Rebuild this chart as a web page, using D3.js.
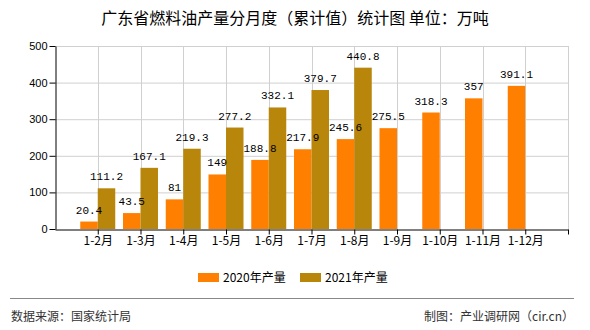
<!DOCTYPE html>
<html>
<head>
<meta charset="utf-8">
<script src="https://cdn.jsdelivr.net/npm/d3@7"></script>
<style>
  html, body { margin: 0; padding: 0; background: #fff; }
  svg { display: block; }
</style>
</head>
<body>
<svg id="chart" width="590" height="330"></svg>
<script>
// Monthly cumulative fuel-oil output, Guangdong (10k tonnes)
const categories = ["1-2月", "1-3月", "1-4月", "1-5月", "1-6月", "1-7月", "1-8月", "1-9月", "1-10月", "1-11月", "1-12月"];
const series2020 = [20.4, 43.5, 81, 149, 188.8, 217.9, 245.6, 275.5, 318.3, 357, 391.1];
const series2021 = [111.2, 167.1, 219.3, 277.2, 332.1, 379.7, 440.8];
const yTicks = [0, 100, 200, 300, 400, 500];
const seriesNames = ["2020年产量", "2021年产量"];
const colors = ["#FF8000", "#B8860B"];

const svg = d3.select("#chart");
const cjk = "'Noto Sans CJK SC', 'Noto Sans', sans-serif";
const sans = "'Liberation Sans', Arial, sans-serif";
const mono = "'Liberation Mono', 'DejaVu Sans Mono', monospace";

const plotL = 55, plotR = 568, plotT = 46, plotB = 229;

// ticks sit on slot boundaries 1..11 of 12 slots across the plot width
const x = d3.scalePoint()
  .domain(["", ...categories, " "])
  .range([plotL, plotR]);
const y = d3.scaleLinear().domain([0, 500]).range([plotB, plotT]);
const barW = 17.5;

// title
svg.append("text")
  .attr("x", 295).attr("y", 24)
  .attr("text-anchor", "middle")
  .style("font-family", cjk).style("font-size", "16px").style("fill", "#000")
  .text("广东省燃料油产量分月度（累计值）统计图 单位：万吨");

// grid
const grid = svg.append("g");
grid.selectAll("line.h").data(yTicks.filter(d => d > 0)).join("line")
  .attr("x1", plotL).attr("x2", plotR)
  .attr("y1", d => y(d) + 0.5).attr("y2", d => y(d) + 0.5)
  .attr("stroke", "#d0d0d0");
grid.selectAll("line.v").data([...categories, " "]).join("line")
  .attr("x1", d => Math.round(x(d)) + 0.5).attr("x2", d => Math.round(x(d)) + 0.5)
  .attr("y1", plotT).attr("y2", plotB)
  .attr("stroke", "#d0d0d0");

// bars
const data2020 = series2020.map((v, i) => ({ c: categories[i], v }));
const data2021 = series2021.map((v, i) => ({ c: categories[i], v }));

svg.append("g").selectAll("rect").data(data2020).join("rect")
  .attr("x", d => x(d.c) - barW).attr("width", barW)
  .attr("y", d => y(d.v)).attr("height", d => y(0) - y(d.v))
  .attr("fill", colors[0]);
svg.append("g").selectAll("rect").data(data2021).join("rect")
  .attr("x", d => x(d.c)).attr("width", barW)
  .attr("y", d => y(d.v)).attr("height", d => y(0) - y(d.v))
  .attr("fill", colors[1]);

// value labels
const labelStyle = sel => sel
  .attr("text-anchor", "middle")
  .style("font-family", mono).style("font-size", "11px").style("fill", "#000");
svg.append("g").selectAll("text").data(data2020).join("text")
  .attr("x", d => x(d.c) - barW / 2).attr("y", d => y(d.v) - 8)
  .call(labelStyle).text(d => d.v);
svg.append("g").selectAll("text").data(data2021).join("text")
  .attr("x", d => x(d.c) + barW / 2).attr("y", d => y(d.v) - 8)
  .call(labelStyle).text(d => d.v);

// axes
const yAxis = svg.append("g")
  .attr("transform", `translate(${plotL + 0.5},0)`)
  .call(d3.axisLeft(y).tickValues(yTicks).tickSize(6).tickSizeOuter(0));
yAxis.select(".domain").attr("stroke", "#000");
yAxis.selectAll("text").style("font-family", sans).style("font-size", "11px").attr("x", -8);

const xAxis = svg.append("g")
  .attr("transform", `translate(0,${plotB + 0.5})`)
  .call(d3.axisBottom(x).tickValues([...categories, " "]).tickSize(5).tickSizeOuter(0)
    .tickFormat(d => d.trim()));
xAxis.select(".domain").attr("stroke", "#000");
xAxis.selectAll("text").style("font-family", cjk).style("font-size", "12px").attr("y", 7);

// legend
const legend = svg.append("g");
const legX = [198, 300];
seriesNames.forEach((n, i) => {
  legend.append("rect").attr("x", legX[i]).attr("y", 273).attr("width", 21).attr("height", 9).attr("fill", colors[i]);
  legend.append("text").attr("x", legX[i] + 25).attr("y", 282)
    .style("font-family", cjk).style("font-size", "12px").style("fill", "#000").text(n);
});

// footer
svg.append("line").attr("x1", 10).attr("x2", 574).attr("y1", 298.5).attr("y2", 298.5).attr("stroke", "#888");
svg.append("text").attr("x", 11).attr("y", 321)
  .style("font-family", cjk).style("font-size", "12px").style("fill", "#333")
  .text("数据来源：国家统计局");
svg.append("text").attr("x", 574).attr("y", 321).attr("text-anchor", "end")
  .style("font-family", cjk).style("font-size", "12px").style("fill", "#333")
  .text("制图：产业调研网（cir.cn）");
</script>
</body>
</html>
